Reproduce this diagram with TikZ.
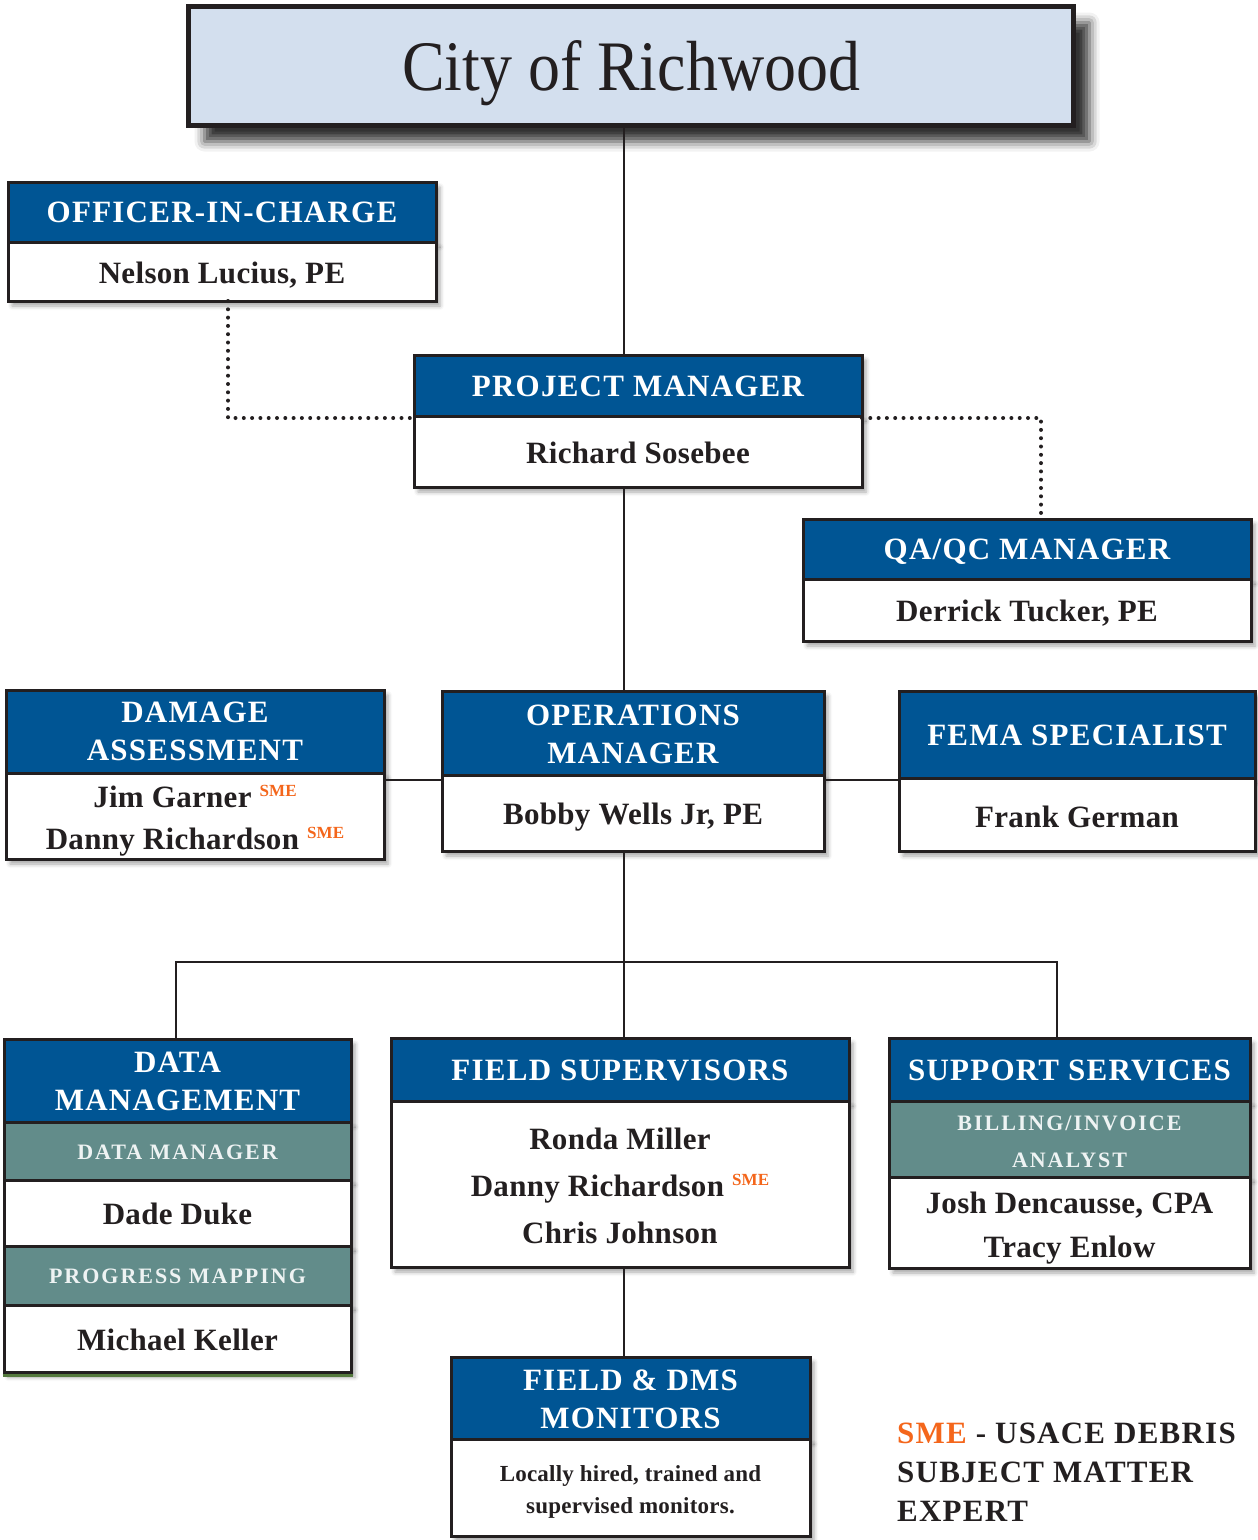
\documentclass[tikz,border=0pt]{standalone}
\usepackage{fontspec}
\setmainfont{Liberation Serif}
\newfontfamily\titlefont{Liberation Serif}[FakeStretch=0.9]
\newfontfamily\hdrfont{Liberation Serif}[LetterSpace=4]
\newfontfamily\subfont{Liberation Serif}[LetterSpace=9]
\newfontfamily\namefont{Liberation Serif}[LetterSpace=1]
\usetikzlibrary{shadows.blur}

\definecolor{hdrblue}{HTML}{005594}
\definecolor{subteal}{HTML}{628C8A}
\definecolor{ink}{HTML}{231F20}
\definecolor{titlefill}{HTML}{D3DFEE}
\definecolor{smeorange}{HTML}{F4661B}
\definecolor{subtext}{HTML}{EEF3F3}
\definecolor{moss}{HTML}{557A3E}

% small orange "SME" tag after a name
\newcommand{\smetag}{\hspace{8pt}\raisebox{11pt}{\fontsize{17}{17}\selectfont\color{smeorange}SME}}

\begin{document}
\begin{tikzpicture}[x=1pt,y=-1pt,
  part/.style={draw=ink, line width=3pt, inner sep=0pt, outer sep=0pt, anchor=north west,
    blur shadow={shadow xshift=4pt, shadow yshift=-5pt, shadow blur radius=4pt, shadow opacity=35}},
  hdr/.style={part, fill=hdrblue},
  body/.style={part, fill=white},
  sub/.style={part, fill=subteal},
  titlebox/.style={draw=ink, line width=5pt, fill=titlefill, inner sep=0pt, outer sep=0pt, anchor=north west,
    blur shadow={shadow xshift=16pt, shadow yshift=-16pt, shadow blur radius=10pt, shadow opacity=80}},
  % multi-line texts are placed by the baseline of their last line
  htxt/.style={text=white, font=\hdrfont\bfseries\fontsize{31}{38}\selectfont, align=center, anchor=base, inner sep=0pt},
  ntxt/.style={text=ink, font=\namefont\bfseries\fontsize{31}{#1}\selectfont, align=center, anchor=base, inner sep=0pt},
  ntxt/.default=44,
  stxt/.style={text=subtext, font=\subfont\bfseries\fontsize{22}{#1}\selectfont, align=center, anchor=base, inner sep=0pt},
  stxt/.default=37,
  link/.style={draw=ink, line width=2pt},
  dots/.style={draw=ink, line width=4pt, line cap=round, dash pattern=on 0pt off 8.3pt},
]
\useasboundingbox (0,0) rectangle (1258,1540);

% ---- title ----
\node[titlebox, minimum width=885pt, minimum height=119pt] (title) at (188.5,6.5) {};
\node[text=ink, font=\titlefont\fontsize{71}{71}\selectfont, anchor=base, inner sep=0pt] (titletext) at (631,90) {City of Richwood};

% ---- officer-in-charge ----
\node[hdr, minimum width=428pt, minimum height=60pt] (oich) at (8,182) {};
\node[body, minimum width=428pt, minimum height=59pt] (oicb) at (oich.south west) {};
\node[htxt] (oicht) at (222,222) {OFFICER-IN-CHARGE};
\node[ntxt] (oicbt) at (222,283) {Nelson Lucius, PE};

% ---- project manager ----
\node[hdr, minimum width=448pt, minimum height=61pt] (pmh) at (414,355) {};
\node[body, minimum width=448pt, minimum height=71pt] (pmb) at (pmh.south west) {};
\node[htxt] (pmht) at (638,396) {PROJECT MANAGER};
\node[ntxt] (pmbt) at (638,463) {Richard Sosebee};

% ---- QA/QC manager ----
\node[hdr, minimum width=448pt, minimum height=60pt] (qah) at (803,519) {};
\node[body, minimum width=448pt, minimum height=62pt] (qab) at (qah.south west) {};
\node[htxt] (qaht) at (1027,559) {QA/QC MANAGER};
\node[ntxt] (qabt) at (1027,621) {Derrick Tucker, PE};

% ---- damage assessment ----
\node[hdr, minimum width=378pt, minimum height=83pt] (dah) at (6,690) {};
\node[body, minimum width=378pt, minimum height=86pt] (dab) at (dah.south west) {};
\node[htxt] (daht) at (195,760) {DAMAGE\\ASSESSMENT};
\node[ntxt=42] (dabt) at (195,849) {Jim Garner\smetag\\Danny Richardson\smetag};

% ---- operations manager ----
\node[hdr, minimum width=382pt, minimum height=84pt] (oph) at (442,691) {};
\node[body, minimum width=382pt, minimum height=76pt] (opb) at (oph.south west) {};
\node[htxt] (opht) at (633,763) {OPERATIONS\\MANAGER};
\node[ntxt] (opbt) at (633,824) {Bobby Wells Jr, PE};

% ---- FEMA specialist ----
\node[hdr, minimum width=356pt, minimum height=87pt] (feh) at (899,691) {};
\node[body, minimum width=356pt, minimum height=73pt] (feb) at (feh.south west) {};
\node[htxt] (feht) at (1077,745) {FEMA SPECIALIST};
\node[ntxt] (febt) at (1077,827) {Frank German};

% ---- data management ----
\node[hdr, minimum width=347pt, minimum height=83pt] (dmh) at (4,1039) {};
\node[sub, minimum width=347pt, minimum height=58pt] (dms1) at (dmh.south west) {};
\node[body, minimum width=347pt, minimum height=66pt] (dmb1) at (dms1.south west) {};
\node[sub, minimum width=347pt, minimum height=59pt] (dms2) at (dmb1.south west) {};
\node[body, minimum width=347pt, minimum height=67pt] (dmb2) at (dms2.south west) {};
\draw[draw=moss, line width=2.5pt] ([yshift=-3.5pt,xshift=-1.5pt]dmb2.south west) -- ([yshift=-3.5pt,xshift=2pt]dmb2.south east);
\node[htxt] (dmht) at (177.5,1110) {DATA\\MANAGEMENT};
\node[stxt] (dms1t) at (177.5,1159) {DATA MANAGER};
\node[ntxt] (dmb1t) at (177.5,1224) {Dade Duke};
\node[stxt] (dms2t) at (177.5,1283) {PROGRESS MAPPING};
\node[ntxt] (dmb2t) at (177.5,1350) {Michael Keller};

% ---- field supervisors ----
\node[hdr, minimum width=458pt, minimum height=63pt] (fsh) at (391,1038) {};
\node[body, minimum width=458pt, minimum height=166pt] (fsb) at (fsh.south west) {};
\node[htxt] (fsht) at (620,1080) {FIELD SUPERVISORS};
\node[ntxt=47] (fsbt) at (620,1243) {Ronda Miller\\Danny Richardson\smetag\\Chris Johnson};

% ---- support services ----
\node[hdr, minimum width=361pt, minimum height=63pt] (ssh) at (889,1038) {};
\node[sub, minimum width=361pt, minimum height=76pt] (sss) at (ssh.south west) {};
\node[body, minimum width=361pt, minimum height=91pt] (ssb) at (sss.south west) {};
\node[htxt] (ssht) at (1069.5,1080) {SUPPORT SERVICES};
\node[stxt] (ssst) at (1069.5,1167) {BILLING/INVOICE\\ANALYST};
\node[ntxt] (ssbt) at (1069.5,1257) {Josh Dencausse, CPA\\Tracy Enlow};

% ---- field & DMS monitors ----
\node[hdr, minimum width=359pt, minimum height=82pt] (fdh) at (451,1357) {};
\node[body, minimum width=359pt, minimum height=97pt] (fdb) at (fdh.south west) {};
\node[htxt] (fdht) at (630.5,1428) {FIELD \& DMS\\MONITORS};
\node[text=ink, font=\namefont\bfseries\fontsize{23}{32}\selectfont, align=center, anchor=base, inner sep=0pt] (fdbt)
  at (630.5,1513) {Locally hired, trained and\\supervised monitors.};

% ---- legend ----
\node[text=ink, font=\hdrfont\bfseries\fontsize{31}{39}\selectfont, align=left, anchor=base west, inner sep=0pt] (legend)
  at (897,1521) {\textcolor{smeorange}{SME} - USACE DEBRIS\\SUBJECT MATTER\\EXPERT};

% ---- connectors ----
\coordinate (spine) at (624,0);
\coordinate (sideY) at (0,780);
\coordinate (bus) at (624,962);
\coordinate (busL) at (176,962);
\coordinate (busR) at (1057,962);
\coordinate (dotL) at (228,418);
\coordinate (dotR) at (1041,418);

\draw[link] (title.south -| spine) -- (pmh.north -| spine);
\draw[link] (pmb.south -| spine) -- (oph.north -| spine);
\draw[link] (dab.east |- sideY) -- (opb.west |- sideY);
\draw[link] (opb.east |- sideY) -- (feb.west |- sideY);
\draw[link] (opb.south -| spine) -- (bus);
\draw[link] (dmh.north -| busL) -- (busL) -- (busR) -- (ssh.north -| busR);
\draw[link] (bus) -- (fsh.north -| spine);
\draw[link] (fsb.south -| spine) -- (fdh.north -| spine);

\draw[dots] (oicb.south -| dotL) -- (dotL) -- (pmb.west |- dotL);
\draw[dots] (pmb.east |- dotR) -- (dotR) -- (qah.north -| dotR);
\end{tikzpicture}
\end{document}
